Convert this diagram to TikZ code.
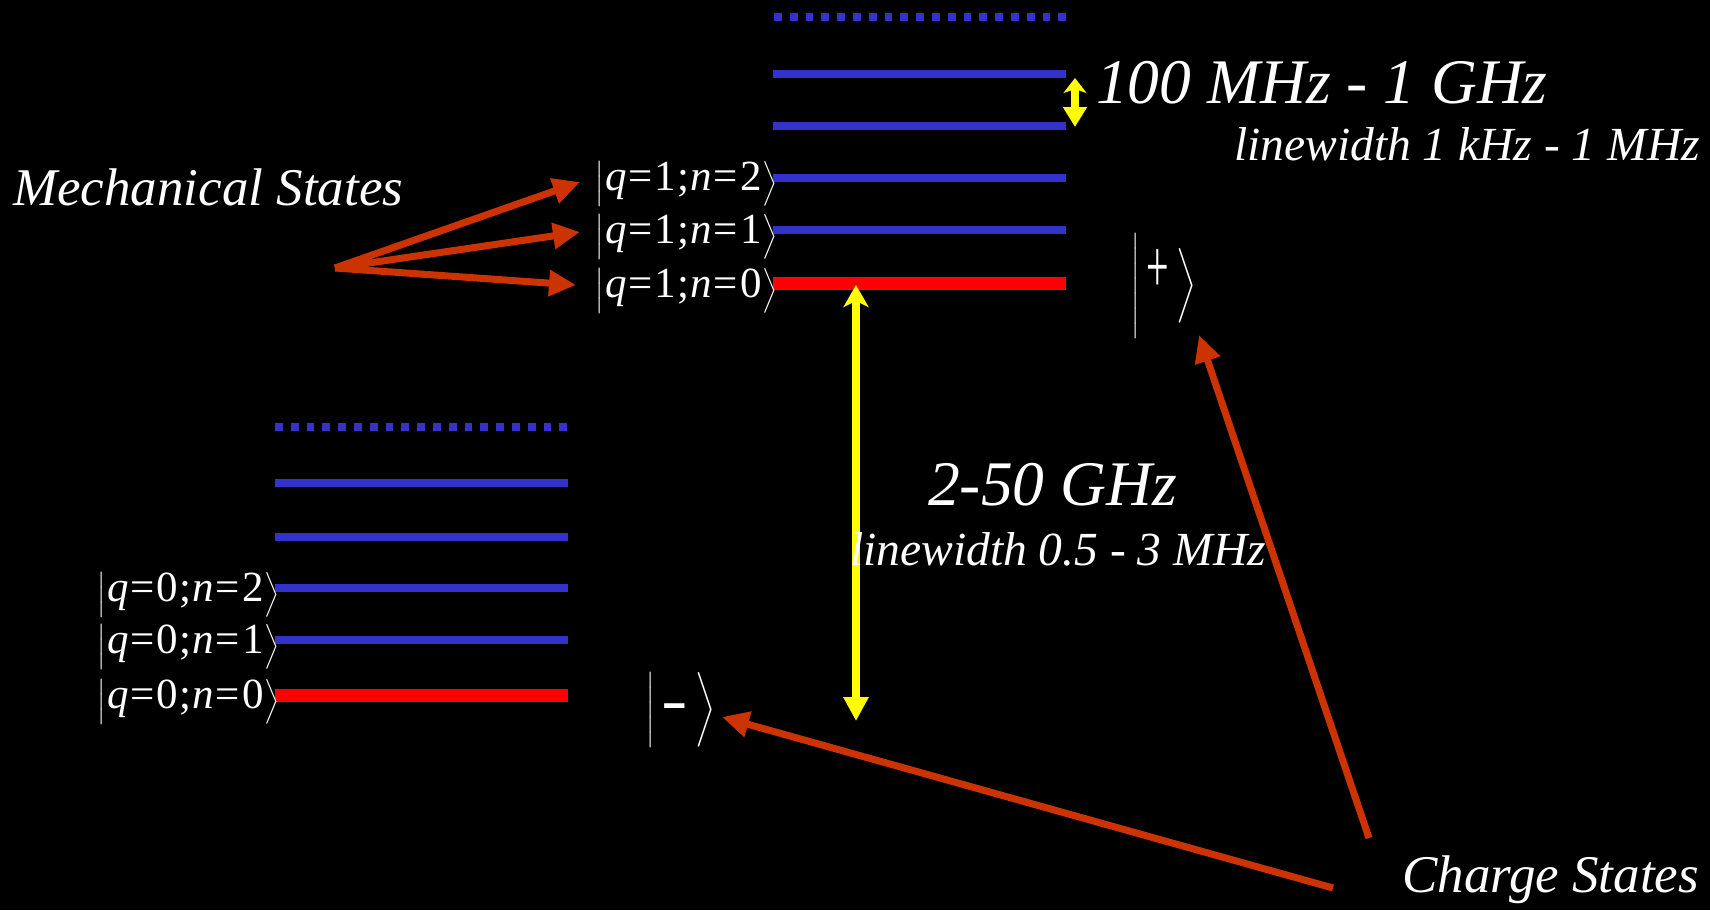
\documentclass[tikz,border=0pt]{standalone}
\usepackage{exscale}
\usepackage{fontspec}
\setmainfont{Liberation Serif}
\setsansfont{Liberation Sans}
\usetikzlibrary{arrows.meta}
\definecolor{lvlblue}{RGB}{51,51,204}
\definecolor{arrred}{RGB}{204,51,0}
\definecolor{yel}{RGB}{255,255,0}
\newcommand{\ketq}[2]{$\left|\mbox{\fontsize{43}{43}\selectfont\kern1pt\textit{q}\kern2pt=\kern2pt#1\kern1pt;\kern1pt\textit{n}\kern2pt=\kern2pt#2\kern1pt}\right\rangle$}
\begin{document}
\begin{tikzpicture}[x=1pt,y=-1pt,
  lvl/.style={line width=8pt, draw=lvlblue},
  lvlground/.style={line width=13pt, draw=red},
  lvldots/.style={line width=8pt, draw=lvlblue, dash pattern=on 7.8pt off 8pt},
  redarrow/.style={draw=arrred, line width=7pt, -{Triangle[length=27pt,width=25pt]}},
  yarrow/.style={draw=yel, line width=8pt, {Stealth[length=22pt,width=25pt,inset=6pt]}-{Triangle[length=24pt,width=24pt]}},
  ysmall/.style={draw=yel, line width=8pt, {Stealth[length=15pt,width=23pt,inset=4pt]}-{Triangle[length=20pt,width=23pt]}},
  lab/.style={text=white, inner sep=0pt, font=\itshape\fontsize{53}{53}\selectfont},
  big/.style={text=white, inner sep=0pt, font=\itshape\fontsize{63.5}{63.5}\selectfont},
  mid/.style={text=white, inner sep=0pt, font=\itshape\fontsize{47.5}{47.5}\selectfont},
  ket/.style={text=white, inner sep=0pt, font=\fontsize{38}{38}\selectfont},
  bigket/.style={text=white, inner sep=0pt, font=\fontsize{40}{40}\selectfont}
]
\fill[black] (0,0) rectangle (1710,910);
\useasboundingbox (0,0) rectangle (1710,910);

% upper ladder (q=1)
\draw[lvldots] (774,16.7) -- (1066,16.7);
\draw[lvl] (773,73.7) -- (1066,73.7);
\draw[lvl] (773,125.7) -- (1066,125.7);
\draw[lvl] (773,177.7) -- (1066,177.7);
\draw[lvl] (773,229.7) -- (1066,229.7);
\draw[lvlground] (773,283.7) -- (1066,283.7);

% lower ladder (q=0)
\draw[lvldots] (275,427) -- (568,427);
\draw[lvl] (275,483) -- (568,483);
\draw[lvl] (275,536.6) -- (568,536.6);
\draw[lvl] (275,587.7) -- (568,587.7);
\draw[lvl] (275,640) -- (568,640);
\draw[lvlground] (275,695) -- (568,695);

% yellow arrows
\coordinate (ytop) at (856,285);
\coordinate (ybot) at (856,721);
\draw[yarrow] (ytop) -- (ybot);
\coordinate (stop) at (1075,78);
\coordinate (sbot) at (1075,127);
\draw[ysmall] (stop) -- (sbot);

% ket labels
\node[ket, anchor=base east] (k12) at (778,190) {\ketq{1}{2}};
\node[ket, anchor=base east] (k11) at (778,243) {\ketq{1}{1}};
\node[ket, anchor=base east] (k10) at (778,297) {\ketq{1}{0}};
\node[ket, anchor=base east] (k02) at (280,601) {\ketq{0}{2}};
\node[ket, anchor=base east] (k01) at (280,653) {\ketq{0}{1}};
\node[ket, anchor=base east] (k00) at (280,708) {\ketq{0}{0}};

% charge state kets
\node[bigket] (plus) at (1164,286) {$\left|\rule[-37.5pt]{0pt}{95pt}\;\mbox{\scalebox{1}[1.9]{+}}\;\right\rangle$};
\node[bigket] (minus) at (681,710) {$\left|\rule[-22.5pt]{0pt}{65pt}\;\mbox{\scalebox{2}[1]{\sffamily\bfseries -}}\;\right\rangle$};

% texts
\node[lab, anchor=base west] (mech) at (13,205) {Mechanical States};
\node[lab, anchor=base west] (charge) at (1402,892) {Charge States};
\node[big, anchor=base west] (fmech) at (1096,103) {100 MHz - 1 GHz};
\node[mid, anchor=base west] (lwmech) at (1234,160) {linewidth 1 kHz - 1 MHz};
\node[big, anchor=base west] (fq) at (928,505) {2-50 GHz};
\node[mid, anchor=base west] (lwq) at (850,565) {linewidth 0.5 - 3 MHz};

% red arrows
\coordinate (msrc) at (335,268);
\coordinate (m2) at (580,182);
\coordinate (m1) at (580,232);
\coordinate (m0) at (576,285);
\draw[redarrow] (msrc) -- (m2);
\draw[redarrow] (msrc) -- (m1);
\draw[redarrow] (msrc) -- (m0);
\coordinate (cs1) at (1333,888);
\coordinate (cs2) at (1369,838);
\coordinate (mt) at (722,717);
\coordinate (pt) at (1199,335);
\draw[redarrow] (cs1) -- (mt);
\draw[redarrow] (cs2) -- (pt);
\end{tikzpicture}
\end{document}
